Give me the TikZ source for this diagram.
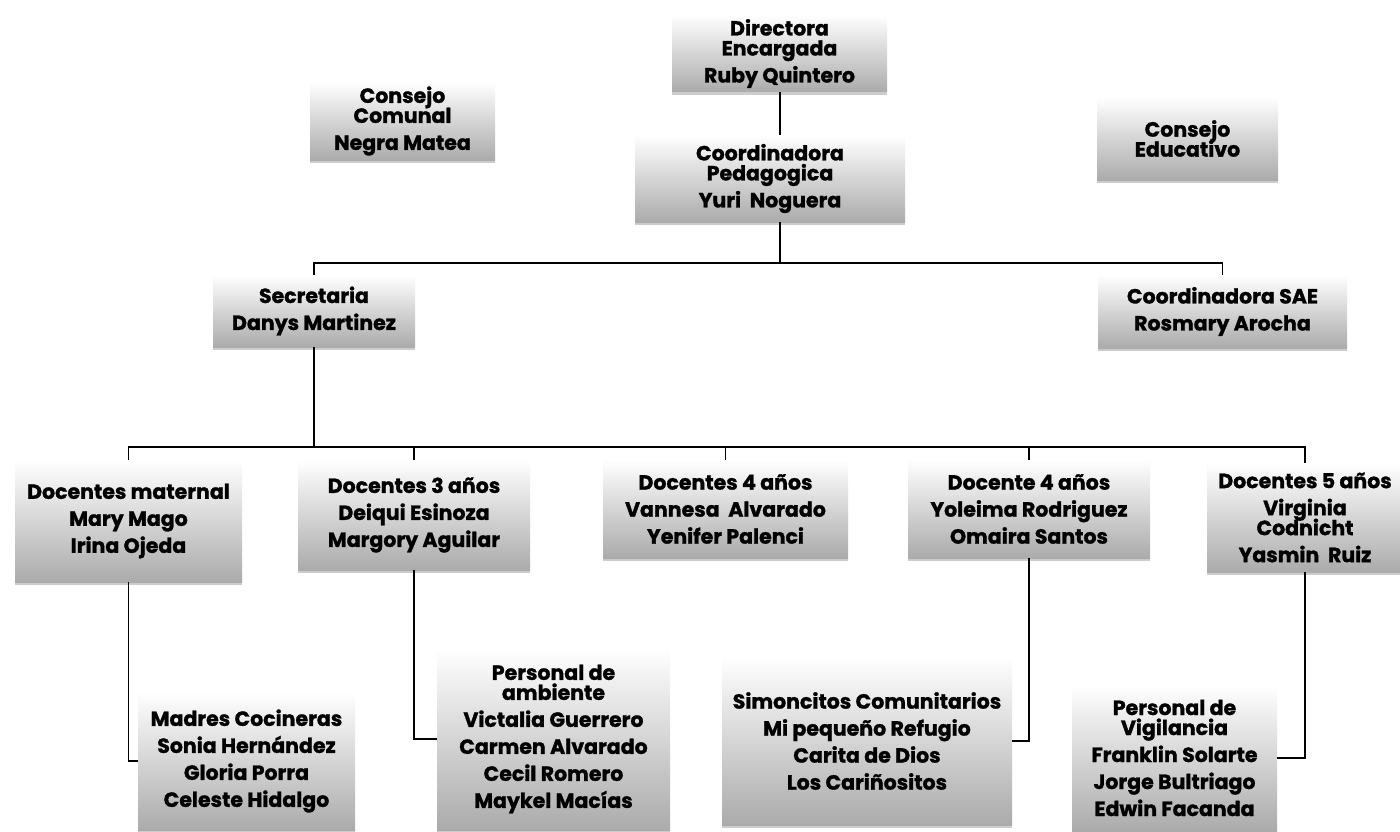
\documentclass[tikz,border=0pt]{standalone}
\usepackage{fontspec}
\setmainfont{Poppins}[BoldFeatures={FakeBold=1.3}]
\usetikzlibrary{shadows}
\tikzset{
  orgbox/.style={draw=none, top color=white, bottom color=black!33,
    drop shadow={shadow xshift=0pt, shadow yshift=-3pt, opacity=.4},
    align=center, inner sep=0pt,
    font=\bfseries\fontsize{20.5}{27}\selectfont},
  conn/.style={draw=black, line width=1.6pt},
}
\newcommand{\tl}{\\[-7pt]}
\begin{document}
\begin{tikzpicture}[x=1pt,y=-1pt]
\useasboundingbox (0,0) rectangle (1400,832);
\node[orgbox, minimum width=215, minimum height=77] (dir) at (779.5,53.5) {Directora\tl Encargada\\Ruby Quintero};
\node[orgbox, minimum width=270, minimum height=87] (coord) at (770,178.5) {Coordinadora\tl Pedagogica\\Yuri\ \ Noguera};
\node[orgbox, minimum width=185, minimum height=78] (cc) at (402.5,121) {Consejo\tl Comunal\\Negra Matea};
\node[orgbox, minimum width=181, minimum height=83] (ce) at (1187.5,138.5) {Consejo\tl Educativo};
\node[orgbox, minimum width=202, minimum height=72] (sec) at (314,311) {Secretaria\\Danys Martinez};
\node[orgbox, minimum width=249, minimum height=73] (sae) at (1222.5,311.5) {Coordinadora SAE\\Rosmary Arocha};
\node[orgbox, minimum width=227, minimum height=122] (mat) at (128.5,521) {Docentes maternal\\Mary Mago\\Irina Ojeda};
\node[orgbox, minimum width=232, minimum height=110] (d3) at (414,515) {Docentes 3 años\\Deiqui Esinoza\\Margory Aguilar};
\node[orgbox, minimum width=245, minimum height=98] (d4) at (725.5,509) {Docentes 4 años\\Vannesa\ \ Alvarado\\Yenifer Palenci};
\node[orgbox, minimum width=242, minimum height=98] (d4b) at (1029,509) {Docente 4 años\\Yoleima Rodriguez\\Omaira Santos};
\node[orgbox, minimum width=196, minimum height=109] (d5) at (1305,517.5) {Docentes 5 años\\Virginia\tl Codnicht\\Yasmin\ \ Ruiz};
\node[orgbox, minimum width=217, minimum height=138] (mad) at (246.5,761) {Madres Cocineras\\Sonia Hernández\\Gloria Porra\\Celeste Hidalgo};
\node[orgbox, minimum width=233, minimum height=182] (amb) at (553.5,739) {Personal de\tl ambiente\\Victalia Guerrero\\Carmen Alvarado\\Cecil Romero\\Maykel Macías};
\node[orgbox, minimum width=290, minimum height=168] (sim) at (867,741) {Simoncitos Comunitarios\\Mi pequeño Refugio\\Carita de Dios\\Los Cariñositos};
\node[orgbox, minimum width=205, minimum height=146] (vig) at (1174.5,758) {Personal de\tl Vigilancia\\Franklin Solarte\\Jorge Bultriago\\Edwin Facanda};
\coordinate (j1) at (780,263);
\coordinate (j2) at (315,447);
\draw[conn] (dir.south -| j1) -- (coord.north -| j1);
\draw[conn] (coord.south -| j1) -- (j1);
\draw[conn] (sec.north) |- (j1) -| (sae.north);
\draw[conn] (sec.south) -- (sec.south |- j2);
\draw[conn] (mat.north) -- (mat.north |- j2) -- (d5.north |- j2) -- (d5.north);
\draw[conn] (d3.north) -- (d3.north |- j2);
\draw[conn] (d4.north) -- (d4.north |- j2);
\draw[conn] (d4b.north) -- (d4b.north |- j2);
\draw[conn] (mat.south) |- (mad.west);
\draw[conn] (d3.south) |- (amb.west);
\draw[conn] (d4b.south) |- (sim.east);
\draw[conn] (d5.south) |- (vig.east);
\end{tikzpicture}
\end{document}
